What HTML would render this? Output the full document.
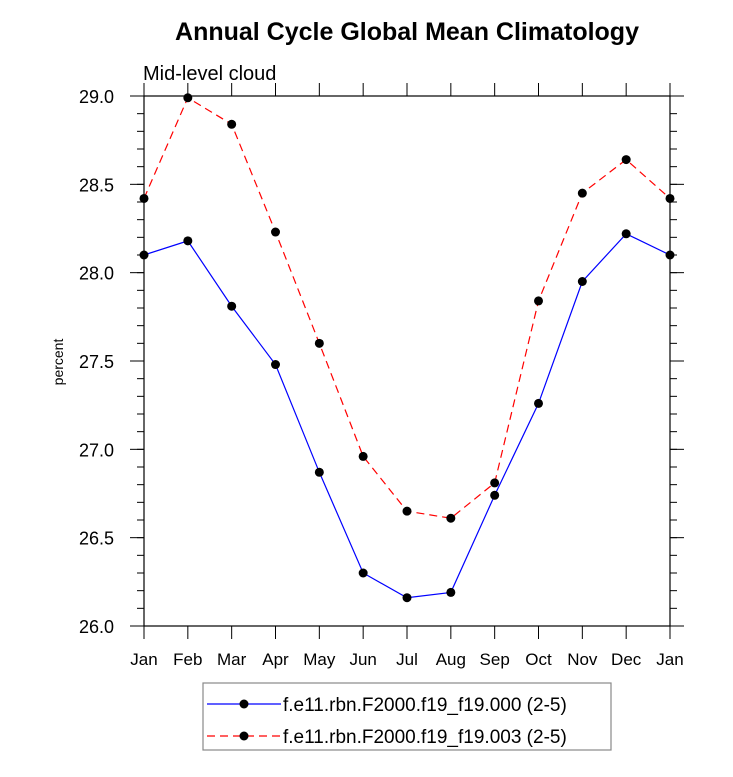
<!DOCTYPE html>
<html><head><meta charset="utf-8"><style>
body{margin:0;background:#fff;}
svg{display:block;font-family:"Liberation Sans",Arial,sans-serif;}
</style></head><body>
<svg id="chart" width="733" height="777">
<text x="407" y="40" text-anchor="middle" font-size="25" font-weight="bold">Annual Cycle Global Mean Climatology</text>
<text x="143" y="80" font-size="20">Mid-level cloud</text>
<text transform="translate(63,362) rotate(-90)" text-anchor="middle" font-size="14">percent</text>
<g id="axes"></g>
<g id="series"></g>
<rect x="203" y="683" width="408" height="67" fill="none" stroke="#888" stroke-width="1.2"/>
<g id="legend"></g>
</svg>
<script>
const months=["Jan","Feb","Mar","Apr","May","Jun","Jul","Aug","Sep","Oct","Nov","Dec","Jan"];
const series000=[28.10,28.18,27.81,27.48,26.87,26.30,26.16,26.19,26.74,27.26,27.95,28.22,28.10];
const series003=[28.42,28.99,28.84,28.23,27.60,26.96,26.65,26.61,26.81,27.84,28.45,28.64,28.42];
const yTicks=[26.0,26.5,27.0,27.5,28.0,28.5,29.0];
const seriesNames=["f.e11.rbn.F2000.f19_f19.000 (2-5)","f.e11.rbn.F2000.f19_f19.003 (2-5)"];
const NS="http://www.w3.org/2000/svg";
const L=144,R=670,T=96,B=626,yMin=26,yMax=29;
const xs=i=>L+(R-L)*i/(months.length-1);
const ys=v=>B-(v-yMin)/(yMax-yMin)*(B-T);
function mk(tag,attrs,parent){const e=document.createElementNS(NS,tag);for(const k in attrs)e.setAttribute(k,attrs[k]);parent.appendChild(e);return e;}
const ax=document.getElementById('axes');
const frame=mk('rect',{x:L,y:T,width:R-L,height:B-T,fill:'none',stroke:'#000','stroke-width':1.2},ax);


for(let v=yMin;v<=yMax+1e-6;v+=0.1){
  const y=ys(v);
  mk('line',{x1:L,x2:L-7,y1:y,y2:y,stroke:'#000'},ax);
  mk('line',{x1:R,x2:R+7,y1:y,y2:y,stroke:'#000'},ax);
}
yTicks.forEach(v=>{
  const y=ys(v);
  mk('line',{x1:L,x2:L-14,y1:y,y2:y,stroke:'#000'},ax);
  mk('line',{x1:R,x2:R+14,y1:y,y2:y,stroke:'#000'},ax);
  const t=mk('text',{x:L-30,y:y+7,'text-anchor':'end','font-size':18},ax);
  t.textContent=v.toFixed(1);
  
  
});
months.forEach((m,i)=>{
  const x=xs(i);
  mk('line',{x1:x,x2:x,y1:B,y2:B+13,stroke:'#000'},ax);
  mk('line',{x1:x,x2:x,y1:T,y2:T-13,stroke:'#000'},ax);
  const t=mk('text',{x:x,y:B+39,'text-anchor':'middle','font-size':17},ax);
  t.textContent=m;
  
  
});
const sg=document.getElementById('series');
function drawSeries(vals,color,dash,name){
  const g=mk('g',{},sg);
  
  
  mk('polyline',{points:vals.map((v,i)=>xs(i)+','+ys(v)).join(' '),fill:'none',stroke:color,'stroke-width':1.2,'stroke-dasharray':dash},g);
  vals.forEach((v,i)=>{
    const c=mk('circle',{cx:xs(i),cy:ys(v),r:4.5,fill:'#000'},g);
    
    
  });
}
drawSeries(series000,'#0000ff','none','series-000');
drawSeries(series003,'#ff0000','8,5','series-003');
const lg=document.getElementById('legend');
[['#0000ff','none',704],['#ff0000','8,5',736]].forEach((s,i)=>{
  const g=mk('g',{},lg);
  
  
  mk('line',{x1:207,x2:281,y1:s[2],y2:s[2],stroke:s[0],'stroke-width':1.2,'stroke-dasharray':s[1]},g);
  mk('circle',{cx:244,cy:s[2],r:4.5,fill:'#000'},g);
  const t=mk('text',{x:283,y:s[2]+7,'font-size':19},g);
  t.textContent=seriesNames[i];
});
</script>
</body></html>
